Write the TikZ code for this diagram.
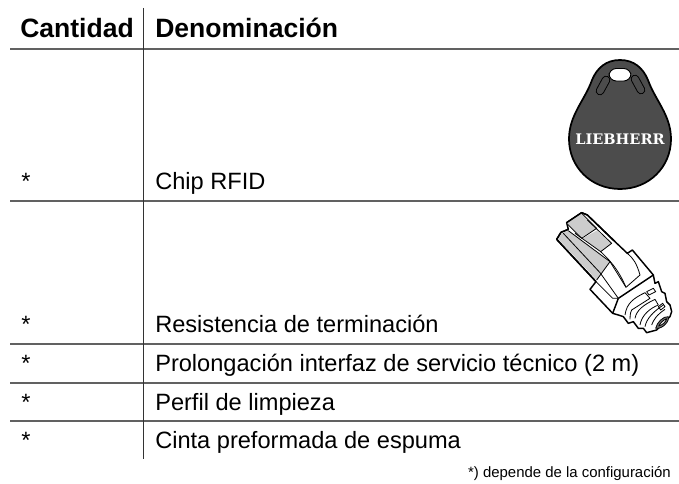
\documentclass[tikz,border=0pt]{standalone}
\usepackage{fontspec}
\setmainfont{Liberation Sans}
\newfontfamily\logofont{DejaVu Serif}
\definecolor{plug}{gray}{0.8}
\tikzset{
  rule/.style={draw=black!62,line width=1.35pt},
  vrule/.style={draw=black!80,line width=0.75pt},
  cell/.style={anchor=base west,inner sep=0pt,font=\fontsize{17.7}{21}\selectfont},
  head/.style={anchor=base west,inner sep=0pt,font=\fontsize{19.9}{23}\selectfont\bfseries},
  ink/.style={draw=black,line width=1.1pt,line join=round},
  fine/.style={draw=black,line width=0.6pt,line join=round},
}
\begin{document}
\begin{tikzpicture}[x=0.75pt,y=-0.75pt]
\useasboundingbox (0,0) rectangle (679,484);
\fill[white] (0,0) rectangle (679,484);
\foreach \yy in {49,201,344,383,421}{\draw[rule] (10,\yy) -- (679,\yy);}
\draw[vrule] (143.3,8) -- (143.3,459.5);
\node[head] (h1) at (20,37.5) {Cantidad};
\node[head] (h2) at (155,37.5) {Denominación};
\node[cell] (q1) at (21,189.5) {*};
\node[cell] (d1) at (155,189.5) {Chip RFID};
\node[cell] (q2) at (21,333) {*};
\node[cell] (d2) at (155,333) {Resistencia de terminación};
\node[cell] (q3) at (21,371.3) {*};
\node[cell] (d3) at (155,371.3) {Prolongación interfaz de servicio técnico (2 m)};
\node[cell] (q4) at (21,410.5) {*};
\node[cell] (d4) at (155,410.5) {Perfil de limpieza};
\node[cell] (q5) at (21,449) {*};
\node[cell] (d5) at (155,449) {Cinta preformada de espuma};
\node[anchor=base east,inner sep=0pt,font=\fontsize{11.2}{13}\selectfont] (fn) at (671,478) {*) depende de la configuración};
% key fob
\draw[draw=black,line width=1.3pt,fill=black!70]
  (620,60) .. controls (606,60) and (597,68) .. (592,80)
  .. controls (585,100) and (569,115) .. (569,139)
  .. controls (569,167) and (591,189) .. (620,189)
  .. controls (649,189) and (671,167) .. (671,139)
  .. controls (671,115) and (655,100) .. (648,80)
  .. controls (643,68) and (634,60) .. (620,60) -- cycle;
\draw[fine,fill=white,line width=0.7pt,rounded corners=5.5pt] (609,68.5) rectangle (631,81);
\draw[fine,line width=0.7pt,line cap=round,double=black!70,double distance=5pt] (606,80) -- (600,91);
\draw[fine,line width=0.7pt,line cap=round,double=black!70,double distance=5pt] (635,79) -- (641,90);
\node[inner sep=0pt,text=white,font=\logofont\fontsize{10.9}{12}\selectfont\bfseries] (logo) at (620,139.5) {LIEBHERR};
% connector, drawn in the coordinates of a 3x crop
\begin{scope}[shift={(500,200)},x=0.25pt,y=-0.25pt]
\draw[ink,fill=white] (170,118) -- (183,97) -- (205,88) -- (200,68) -- (245,38) -- (262,45) -- (345,125) -- (382,160) -- (397,150) -- (460,225)
  -- (465,250) -- (475,245) -- (485,275) -- (495,280) -- (500,305) -- (510,315) -- (515,335) -- (510,350) -- (470,390) -- (440,398) -- (430,385) -- (415,385) -- (400,365) -- (385,370) -- (370,350) -- (355,345) -- (338,340) -- (270,268) -- (288,245) -- cycle;
\fill[plug] (200,70) -- (245,40) -- (290,85) -- (240,115) -- cycle;
\draw[fine] (200,70) -- (245,115) -- (290,85) -- (245,40);
\fill[plug] (175,118) -- (185,100) -- (205,92) -- (330,185) -- (290,240) -- cycle;
\fill[plug] (248,115) -- (290,92) -- (335,130) -- (302,155) -- cycle;
\draw[ink] (170,118) -- (183,97) -- (205,88);
\draw[ink] (200,68) -- (245,38) -- (262,45) -- (345,125);
\draw[ink] (170,118) -- (288,245);
\draw[fine] (190,100) -- (300,218);
\draw[fine] (205,92) -- (330,185) -- (290,240);
\draw[fine] (225,100) -- (302,155) -- (335,130) -- (262,60);
\draw[fine] (330,185) -- (378,262) -- (420,225) .. controls (410,190) and (400,175) .. (382,160);
\draw[fine] (302,155) .. controls (340,190) and (360,220) .. (378,262);
\draw[fine] (288,245) -- (338,295) -- (355,295);
\draw[fine] (300,218) -- (355,295);
\draw[ink] (355,295) -- (338,340);
\draw[ink] (355,295) -- (460,225);
% boot ribs
\draw[fine] (375,345) .. controls (380,310) and (400,295) .. (435,278) -- (450,295) -- (395,330) .. controls (390,340) and (390,350) .. (390,358);
\draw[fine] (405,355) .. controls (410,330) and (430,315) .. (465,298) -- (475,315) .. controls (450,325) and (425,345) .. (420,375);
\draw[fine] (435,380) .. controls (440,355) and (460,335) .. (490,315);
\draw[fine] (455,375) .. controls (460,360) and (470,345) .. (495,328);
\draw[fine] (440,275) -- (460,265) -- (467,275) -- (447,285) -- cycle;
\draw[fine] (475,320) -- (488,310) -- (495,320) -- (482,330) -- cycle;
\draw[fine,fill=black!55] (467,385) .. controls (470,368) and (490,348) .. (505,350) .. controls (510,360) and (490,388) .. (467,385) -- cycle;
\draw[fine,fill=white] (476,378) .. controls (480,370) and (490,360) .. (500,356) .. controls (498,365) and (488,375) .. (476,378) -- cycle;
\end{scope}
\end{tikzpicture}
\end{document}
